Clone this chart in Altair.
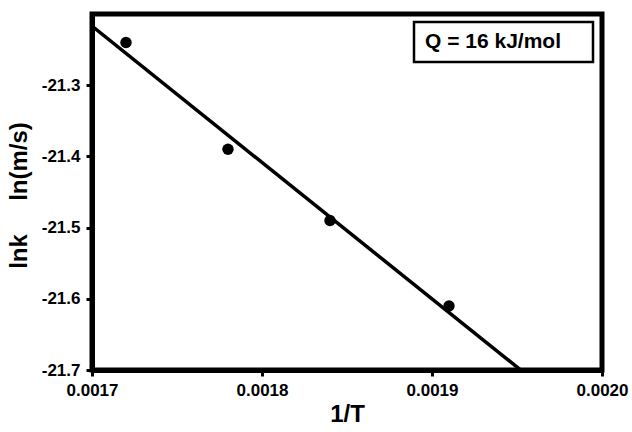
import altair as alt
import pandas as pd

inv_T = [0.00172, 0.00178, 0.00184, 0.00191]
ln_rate = [-21.24, -21.39, -21.49, -21.61]
x_ticks = [0.0017, 0.0018, 0.0019, 0.0020]
y_ticks = [-21.7, -21.6, -21.5, -21.4, -21.3]
note = "Q = 16 kJ/mol"

df = pd.DataFrame({"x": inv_T, "y": ln_rate})
FONT = "Liberation Sans"

xs = alt.Scale(domain=[0.0017, 0.0020], nice=False, zero=False)
ys = alt.Scale(domain=[-21.7, -21.2], nice=False, zero=False)

x_axis = alt.Axis(values=x_ticks, format=".4f", title="1/T", grid=False,
                  titleX=255, titleY=44, titleBaseline="middle", labelFlush=False)
y_axis = alt.Axis(values=y_ticks, title="lnk\u00a0\u00a0\u00a0\u00a0\u00a0ln(m/s)", grid=False,
                  labelExpr="replace(format(datum.value, '.1f'), '\u2212', '-')",
                  titleX=-73, titleY=181, titleAngle=-90, titleBaseline="middle",
                  titleAlign="center", labelFlush=False)

base = alt.Chart(df)

pts = base.mark_circle(size=130, color="black", opacity=1).encode(
    x=alt.X("x:Q", scale=xs, axis=x_axis),
    y=alt.Y("y:Q", scale=ys, axis=y_axis),
)

fit = base.transform_regression("x", "y", method="linear", extent=[0.0017, 0.0020]).mark_line(
    color="black", strokeWidth=3.5, clip=True
).encode(x=alt.X("x:Q", scale=xs, axis=x_axis), y=alt.Y("y:Q", scale=ys, axis=y_axis))

box = alt.Chart(pd.DataFrame({"t": [note]})).mark_rect(
    fill="white", stroke="black", strokeWidth=2.5
).encode(x=alt.value(322), x2=alt.value(501), y=alt.value(8), y2=alt.value(48))

txt = alt.Chart(pd.DataFrame({"t": [note]})).mark_text(
    align="left", baseline="middle", font=FONT, fontWeight="bold", fontSize=21, color="black"
).encode(x=alt.value(333), y=alt.value(28), text="t:N")

chart = alt.layer(fit, pts, box, txt).properties(
    width=510, height=356,
    autosize=alt.AutoSizeParams(type="none"),
    padding={"left": 92, "top": 14, "right": 30, "bottom": 62},
    background="white",
).configure_view(stroke="black", strokeWidth=5).configure_axis(
    labelFont=FONT, labelFontWeight="bold", labelFontSize=17, labelColor="black",
    titleFont=FONT, titleFontWeight="bold", titleFontSize=24, titleColor="black",
    tickSize=6, tickWidth=3, tickColor="black", labelPadding=6,
    domainWidth=5, domainColor="black",
)

chart.save("out.html", embed_options={"renderer": "svg", "actions": False})
